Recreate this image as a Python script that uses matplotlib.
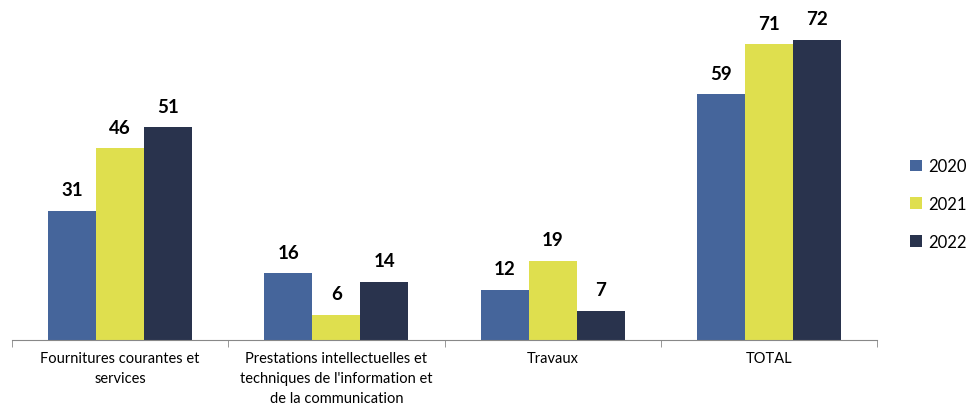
import numpy as np
import matplotlib.pyplot as plt

# Données
categories = ["Fournitures courantes et\nservices",
              "Prestations intellectuelles et\ntechniques de l'information et\nde la communication",
              "Travaux",
              "TOTAL"]
annees = ["2020", "2021", "2022"]
v2020 = [31, 16, 12, 59]
v2021 = [46, 6, 19, 71]
v2022 = [51, 14, 7, 72]

couleurs = ["#45659B", "#DFDF4E", "#29334D"]

plt.rcParams['font.family'] = ['Lato', 'DejaVu Sans']

fig = plt.figure(figsize=(9.68, 4.06), dpi=100)
ax = fig.add_axes([12 / 968, 65 / 406, 865 / 968, 336 / 406])

x = np.arange(len(categories))
w = 0.222
for i, (serie, c) in enumerate(zip([v2020, v2021, v2022], couleurs)):
    pos = x + (i - 1) * w
    ax.bar(pos, serie, width=w, color=c, label=annees[i])
    for xx, v in zip(pos, serie):
        ax.text(xx, v + 3, str(v), ha='center', va='bottom',
                fontsize=13.5, fontweight='bold')

ax.set_xlim(-0.5, len(categories) - 0.5)
ax.set_ylim(0, 80.6)
ax.set_yticks([])
for s in ['top', 'right', 'left']:
    ax.spines[s].set_visible(False)
ax.spines['bottom'].set_color('#888888')

ax.set_xticks(x)
ax.set_xticklabels(categories, fontsize=10.5, linespacing=1.55)
ax.tick_params(axis='x', which='major', length=0, pad=8)
ax.set_xticks(np.arange(-0.5, len(categories)), minor=True)
ax.tick_params(axis='x', which='minor', length=5, color='#888888')

leg = ax.legend(loc='center left', bbox_to_anchor=(1.021, 0.405), frameon=False,
                fontsize=12, handlelength=0.7, handleheight=0.7,
                labelspacing=1.3, handletextpad=0.4)

fig.savefig('out.png', dpi=100)
